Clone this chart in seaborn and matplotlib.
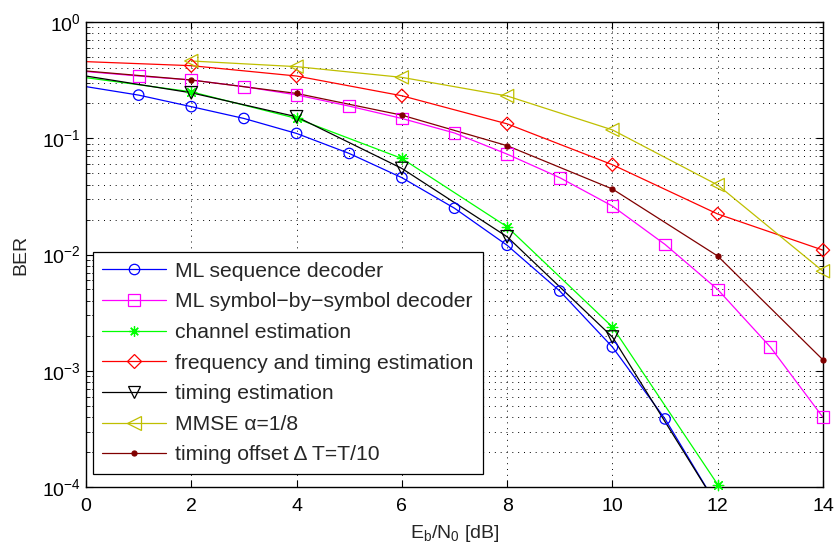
import matplotlib
matplotlib.use("Agg")
import numpy as np
import pandas as pd
import matplotlib.pyplot as plt
from matplotlib.lines import Line2D
from matplotlib.ticker import LogLocator, NullFormatter, FixedLocator
import seaborn as sns

# Eb/N0 grids (dB)
snr_unit = list(range(0, 13))          # 0..12, step 1
snr_unit_long = list(range(0, 15))     # 0..14, step 1
snr_even = [0, 2, 4, 6, 8, 10, 12]
snr_even_long = [0, 2, 4, 6, 8, 10, 12, 14]
snr_mmse = [2, 4, 6, 8, 10, 12, 14]

# Bit error rates
ber_ml_seq = [0.278, 0.235, 0.187, 0.148, 0.110, 0.074, 0.0458, 0.025,
              0.012, 0.00485, 0.0016, 3.85e-4, 6.8e-5]
ber_ml_sym = [0.375, 0.343, 0.317, 0.278, 0.236, 0.189, 0.148, 0.111,
              0.073, 0.0458, 0.0261, 0.0122, 0.0050, 0.0016, 3.97e-4]
ber_channel = [0.332, 0.251, 0.148, 0.067, 0.0173, 0.00238, 1.05e-4]
ber_freq_timing = [0.456, 0.421, 0.343, 0.232, 0.133, 0.0592, 0.0223, 0.0109]
ber_timing = [0.343, 0.246, 0.153, 0.055, 0.0142, 0.00195, 6.8e-5]
ber_mmse = [0.462, 0.413, 0.334, 0.231, 0.118, 0.0396, 0.00718]
ber_offset = [0.379, 0.317, 0.243, 0.158, 0.0863, 0.0366, 0.0097, 0.00124]

labels = [
    "ML sequence decoder",
    "ML symbol\u2212by\u2212symbol decoder",
    "channel estimation",
    "frequency and timing estimation",
    "timing estimation",
    "MMSE \u03b1=1/8",
    "timing offset \u0394 T=T/10",
]

YMIN, YMAX = 1e-4, 1.0

sns.set_style("white")
plt.rcParams["font.family"] = ["Liberation Sans", "DejaVu Sans"]
plt.rcParams["mathtext.fontset"] = "custom"
plt.rcParams["mathtext.rm"] = "Liberation Sans"
plt.rcParams["mathtext.it"] = "Liberation Sans:italic"
plt.rcParams["mathtext.default"] = "rm"

fig = plt.figure(figsize=(8.37, 5.5), dpi=100)
ax = fig.add_axes([86 / 837, 1 - 487 / 550, (823 - 86) / 837, (487 - 22) / 550])

# (x, y, colour, marker, marker size, filled)
series = [
    (snr_unit, ber_ml_seq, "#0000ff", "o", 7.5, False),
    (snr_unit_long, ber_ml_sym, "#ff00ff", "s", 8.5, False),
    (snr_even, ber_channel, "#00ff00", (8, 2, 0), 7.5, True),
    (snr_even_long, ber_freq_timing, "#ff0000", "D", 6.8, False),
    (snr_even, ber_timing, "#000000", "v", 9.0, False),
    (snr_mmse, ber_mmse, "#bfbf00", "<", 9.5, False),
    (snr_even_long, ber_offset, "#800000", "o", 3.6, True),
]

handles = []
for (x, y, col, mk, ms, filled), lab in zip(series, labels):
    df = pd.DataFrame({"snr": x, "ber": y})
    sns.lineplot(data=df, x="snr", y="ber", ax=ax, color=col, lw=0.9,
                 estimator=None, sort=False, legend=False)
    # markers: skip the 0 dB point and anything below the axis floor
    pts = df[(df["snr"] > 0) & (df["ber"] >= YMIN)]
    sns.scatterplot(data=pts, x="snr", y="ber", ax=ax, marker=mk, s=ms ** 2,
                    facecolor=(col if filled else "none"), edgecolor=col,
                    linewidth=0.9, clip_on=False, zorder=3, legend=False)
    handles.append(Line2D([], [], color=col, lw=0.9, marker=mk, markersize=ms,
                          markerfacecolor=(col if filled else "none"),
                          markeredgecolor=col, markeredgewidth=0.9))

ax.set_yscale("log")
ax.set_xlim(0, 14)
ax.set_ylim(YMIN, YMAX)
ax.xaxis.set_major_locator(FixedLocator(list(range(0, 15, 2))))
ax.yaxis.set_major_locator(LogLocator(base=10, numticks=10))
ax.yaxis.set_minor_locator(LogLocator(base=10, subs=np.arange(2, 10), numticks=50))
ax.yaxis.set_minor_formatter(NullFormatter())

grid_kw = dict(color="black", linestyle=(0, (1, 5)), linewidth=0.7)
ax.grid(True, which="major", axis="both", **grid_kw)
ax.grid(True, which="minor", axis="y", **grid_kw)
ax.set_axisbelow(True)

for sp in ax.spines.values():
    sp.set_visible(True)
    sp.set_color("black")
    sp.set_linewidth(1.0)

ax.tick_params(which="both", direction="in", top=True, right=True,
               bottom=True, left=True, colors="black", labelsize=14)
ax.tick_params(which="major", length=5, width=0.8)
ax.tick_params(which="minor", length=3, width=0.6)
ax.tick_params(axis="x", pad=8)

ax.set_xlabel(r"E$_\mathrm{b}$/N$_\mathrm{0}$ [dB]", fontsize=14, labelpad=6)
ax.set_ylabel("BER", fontsize=14, labelpad=9)

leg = ax.legend(handles, labels, loc="lower left",
                bbox_to_anchor=(7 / 737, 13 / 465), fontsize=15.2,
                frameon=True, fancybox=False, framealpha=1, edgecolor="black",
                handlelength=3.0, handletextpad=0.43, labelspacing=0.55,
                borderpad=0.45, borderaxespad=0.0)
leg.get_frame().set_linewidth(0.9)

fig.savefig("out.png", dpi=100)
